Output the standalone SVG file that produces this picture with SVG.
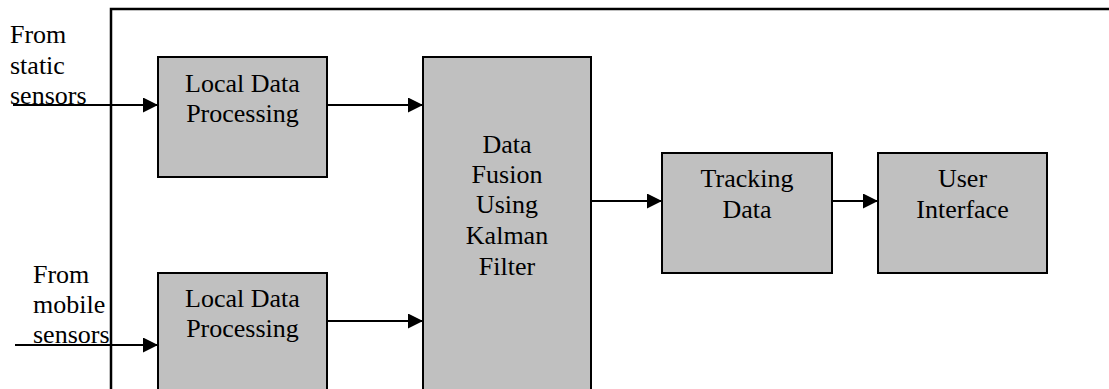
<svg xmlns="http://www.w3.org/2000/svg" width="1109" height="389" viewBox="0 0 1109 389">
  <style>
    .box { fill: #C0C0C0; stroke: #000; stroke-width: 2; }
    .lbl { font-family: "Liberation Serif", "Times New Roman", serif; font-size: 26px; fill: #000; }
    .mid { text-anchor: middle; }
    .edge { stroke: #000; stroke-width: 2; fill: none; marker-end: url(#head); }
  </style>
  <defs>
    <marker id="head" viewBox="0 0 15 15" refX="15" refY="7.5" markerWidth="15" markerHeight="15" markerUnits="userSpaceOnUse" orient="auto">
      <path d="M0,0 L15,7.5 L0,15 Z" fill="#000"/>
    </marker>
  </defs>

  <rect width="1109" height="389" fill="#fff"/>

  <!-- system boundary -->
  <g id="frame">
    <path d="M111,392 L111,9 L1112,9" fill="none" stroke="#000" stroke-width="2.5"/>
  </g>

  <g id="src-static">
    <text class="lbl" x="10" y="43">From</text>
    <text class="lbl" x="10" y="74">static</text>
    <text class="lbl" x="10" y="104">sensors</text>
  </g>

  <g id="src-mobile">
    <text class="lbl" x="33" y="283">From</text>
    <text class="lbl" x="33" y="313">mobile</text>
    <text class="lbl" x="33" y="343">sensors</text>
  </g>

  <g id="ldp-static">
    <rect class="box" x="158" y="57" width="169" height="120"/>
    <text class="lbl mid" x="242.5" y="92">Local Data</text>
    <text class="lbl mid" x="242.5" y="122">Processing</text>
  </g>

  <g id="ldp-mobile">
    <rect class="box" x="158" y="273" width="169" height="130"/>
    <text class="lbl mid" x="242.5" y="307">Local Data</text>
    <text class="lbl mid" x="242.5" y="337">Processing</text>
  </g>

  <g id="fusion">
    <rect class="box" x="423" y="57" width="168" height="346"/>
    <text class="lbl mid" x="507" y="153">Data</text>
    <text class="lbl mid" x="507" y="183">Fusion</text>
    <text class="lbl mid" x="507" y="213">Using</text>
    <text class="lbl mid" x="507" y="244">Kalman</text>
    <text class="lbl mid" x="507" y="275">Filter</text>
  </g>

  <g id="tracking">
    <rect class="box" x="662" y="153" width="170" height="120"/>
    <text class="lbl mid" x="747" y="187">Tracking</text>
    <text class="lbl mid" x="747" y="218">Data</text>
  </g>

  <g id="ui">
    <rect class="box" x="878" y="153" width="169" height="120"/>
    <text class="lbl mid" x="962.5" y="187">User</text>
    <text class="lbl mid" x="962.5" y="218">Interface</text>
  </g>

  <g id="connectors">
    <line class="edge" x1="13" y1="105" x2="158" y2="105"/>
    <line class="edge" x1="15" y1="345" x2="158" y2="345"/>
    <line class="edge" x1="327" y1="105" x2="423" y2="105"/>
    <line class="edge" x1="327" y1="321" x2="423" y2="321"/>
    <line class="edge" x1="591" y1="201" x2="662" y2="201"/>
    <line class="edge" x1="832" y1="201" x2="878" y2="201"/>
  </g>
</svg>
